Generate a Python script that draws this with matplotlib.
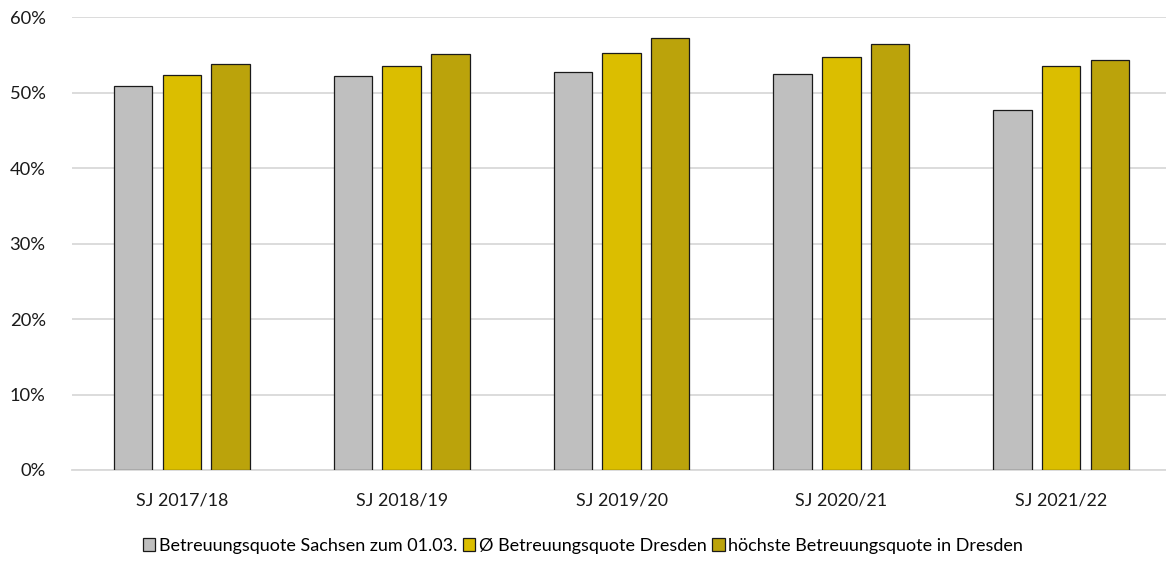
import matplotlib
matplotlib.use("Agg")
import matplotlib.pyplot as plt
import numpy as np
from matplotlib.patches import Patch
from matplotlib.ticker import FuncFormatter

plt.rcParams['font.family'] = ['Lato', 'DejaVu Sans']

categories = ["SJ 2017/18", "SJ 2018/19", "SJ 2019/20", "SJ 2020/21", "SJ 2021/22"]
sachsen = [50.9, 52.2, 52.8, 52.5, 47.7]
dresden_avg = [52.3, 53.6, 55.3, 54.8, 53.6]
dresden_max = [53.8, 55.2, 57.3, 56.4, 54.4]
series_names = ["Betreuungsquote Sachsen zum 01.03.",
                "Ø Betreuungsquote Dresden",
                "höchste Betreuungsquote in Dresden"]
colors = ["#BFBFBF", "#DBBE00", "#BBA30B"]

W, H = 1166, 568
fig = plt.figure(figsize=(W / 100, H / 100), dpi=100)
ax = fig.add_axes([72 / W, 1 - 470 / H, 1099 / W, (470 - 17.3) / H])

x = np.arange(len(categories))
step = 0.2215
width = 0.175
for i, (vals, c) in enumerate(zip([sachsen, dresden_avg, dresden_max], colors)):
    ax.bar(x + (i - 1) * step, vals, width=width, color=c, edgecolor="#1a1a1a",
           linewidth=0.9, zorder=3)

ax.set_xlim(-0.5, len(categories) - 0.5)
ax.set_ylim(0, 60)
ax.set_yticks(np.arange(0, 61, 10))
ax.yaxis.set_major_formatter(FuncFormatter(lambda v, p: f"{int(v)}%"))
ax.grid(axis="y", color="#d9d9d9", linewidth=1.3, zorder=0)
ax.set_axisbelow(True)
for s in ["top", "right", "left"]:
    ax.spines[s].set_visible(False)
ax.spines["bottom"].set_color("#d9d9d9")
ax.spines["bottom"].set_linewidth(1.3)
ax.tick_params(axis="both", length=0, labelsize=13.2, colors="#1a1a1a")
ax.tick_params(axis="x", labelsize=12.9, pad=16)
ax.tick_params(axis="y", pad=19)
ax.set_xticks(x)
ax.set_xticklabels(categories)

handles = [Patch(facecolor=c, edgecolor="#1a1a1a", linewidth=0.9) for c in colors]
fig.legend(handles, series_names, loc="center", bbox_to_anchor=(583 / W, 1 - 546 / H),
           ncol=3, frameon=False, fontsize=13.0, handlelength=0.7, handleheight=0.7,
           handletextpad=0.2, columnspacing=0.3, borderaxespad=0)

fig.savefig("out.png", dpi=100)
